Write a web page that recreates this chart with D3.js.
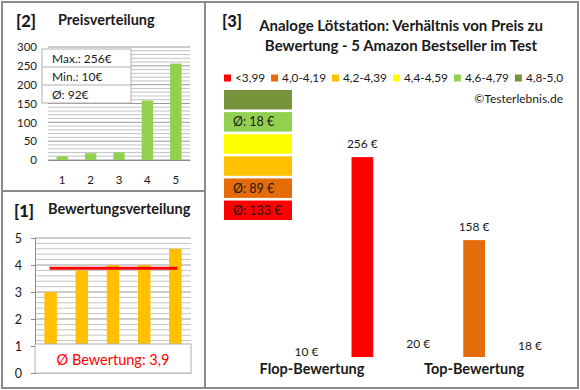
<!DOCTYPE html>
<html><head><meta charset="utf-8">
<script src="https://cdn.jsdelivr.net/npm/d3@7"></script>
<style>html,body{margin:0;padding:0;background:#fff;}svg{display:block;font-family:Lato,"Open Sans",sans-serif;}</style>
</head><body>
<svg id="c" width="580" height="390"></svg>
<script>
// ---- data ----
const priceCats = ["1","2","3","4","5"];
const priceValues = [10, 18, 20, 158, 256];
const priceTicks = [0, 50, 100, 150, 200, 250, 300];
const priceInfo = ["Max.: 256€", "Min.: 10€", "Ø: 92€"];

const ratingCats = ["1","2","3","4","5"];
const ratingValues = [3.0, 3.8, 4.0, 4.0, 4.6];
const ratingTicks = [0, 1, 2, 3, 4, 5];
const ratingLabel = "Ø Bewertung: 3,9";

const legendLabels = ["<3,99", "4,0-4,19", "4,2-4,39", "4,4-4,59", "4,6-4,79", "4,8-5,0"];
const legendColors = ["#FF0000", "#E46C0A", "#FFC000", "#FFFF00", "#92D050", "#77933C"];
const classAverages = [133, 89, null, null, 18, null];

const productIds = ["p1", "p2", "p3", "p4", "p5"];
const productPrices = [10, 256, 20, 158, 18];
const productClass = [0, 0, 1, 1, 4];
const groupNames = ["Flop-Bewertung", "Top-Bewertung"];
const priceAxisMin = 20;

const svg = d3.select("#c");
const txt = "#1a1a1a";

// ---- frames ----
svg.append("rect").attr("x", 2).attr("y", 2).attr("width", 576).attr("height", 386)
  .attr("fill", "none").attr("stroke", "#8a8a8a").attr("stroke-width", 2);
svg.append("line").attr("x1", 205).attr("x2", 205).attr("y1", 2).attr("y2", 388)
  .attr("stroke", "#8a8a8a").attr("stroke-width", 2);
svg.append("line").attr("x1", 2).attr("x2", 205).attr("y1", 191).attr("y2", 191)
  .attr("stroke", "#8a8a8a").attr("stroke-width", 2);

// ---- panel [2] Preisverteilung ----
const p2 = svg.append("g");
p2.append("text").attr("x", 16).attr("y", 27).attr("font-size", 16.5).attr("font-weight", 900).attr("fill", txt).text("[2]");
p2.append("text").attr("x", 58).attr("y", 25).attr("font-size", 14.5).attr("font-weight", "bold").attr("fill", txt).text("Preisverteilung");

const x2 = d3.scaleBand().domain(priceCats).range([48, 190]).paddingInner(0.6).paddingOuter(0.3);
const y2 = d3.scaleLinear().domain([0, 300]).range([160, 47]);
p2.append("g").selectAll("line").data(d3.range(0, 301, 10)).join("line")
  .attr("x1", 48).attr("x2", 190).attr("y1", d => y2(d)).attr("y2", d => y2(d))
  .attr("stroke", d => d % 50 === 0 ? "#9a9a9a" : "#c4c4c4").attr("stroke-width", 1);
p2.append("g").selectAll("rect").data(priceValues).join("rect")
  .attr("x", (d, i) => x2(priceCats[i])).attr("width", x2.bandwidth())
  .attr("y", d => y2(d)).attr("height", d => y2(0) - y2(d)).attr("fill", "#92D050");
const ax2 = p2.append("g").attr("transform", "translate(0,160)")
  .call(d3.axisBottom(x2).tickSize(0).tickPadding(16));
ax2.select(".domain").attr("stroke", "#8a8a8a");
ax2.selectAll("text").attr("font-size", 11.5).attr("fill", txt).attr("font-family", "Lato");
const ay2 = p2.append("g").attr("transform", "translate(45,0)")
  .call(d3.axisLeft(y2).tickValues(priceTicks).tickSize(0).tickPadding(8));
ay2.select(".domain").remove();
ay2.selectAll("text").attr("font-size", 11.5).attr("fill", txt).attr("font-family", "Lato");

const infoRows = d3.scaleBand().domain(d3.range(priceInfo.length)).range([49, 103]);
p2.append("rect").attr("x", 42).attr("y", 49).attr("width", 89).attr("height", 54)
  .attr("fill", "#fff").attr("stroke", "#b0b0b0");
p2.append("g").selectAll("line").data(d3.range(1, priceInfo.length)).join("line")
  .attr("x1", 42).attr("x2", 131).attr("y1", d => infoRows(d)).attr("y2", d => infoRows(d))
  .attr("stroke", "#b0b0b0");
p2.append("g").selectAll("text").data(priceInfo).join("text")
  .attr("x", 52).attr("y", (d, i) => infoRows(i) + infoRows.bandwidth() / 2 + 4.5)
  .attr("font-size", 12).attr("fill", txt).text(d => d);

// ---- panel [1] Bewertungsverteilung ----
const p1 = svg.append("g");
p1.append("text").attr("x", 14).attr("y", 217).attr("font-size", 16.5).attr("font-weight", 900).attr("fill", txt).text("[1]");
p1.append("text").attr("x", 48).attr("y", 214).attr("font-size", 14.5).attr("font-weight", "bold").attr("fill", txt).text("Bewertungsverteilung");

const x1 = d3.scaleBand().domain(ratingCats).range([35, 191]).paddingInner(0.6).paddingOuter(0.3);
const y1 = d3.scaleLinear().domain([0, 5]).range([373, 238]);
p1.append("g").selectAll("line").data(d3.range(0, 25.1, 1)).join("line")
  .attr("x1", 35).attr("x2", 191).attr("y1", d => y1(d / 5)).attr("y2", d => y1(d / 5))
  .attr("stroke", d => d % 5 === 0 ? "#9a9a9a" : "#c4c4c4").attr("stroke-width", 1);
p1.append("g").selectAll("rect").data(ratingValues).join("rect")
  .attr("x", (d, i) => x1(ratingCats[i])).attr("width", x1.bandwidth())
  .attr("y", d => y1(d)).attr("height", d => y1(0) - y1(d)).attr("fill", "#FFC000");
const ay1 = p1.append("g").attr("transform", "translate(35,0)")
  .call(d3.axisLeft(y1).tickValues(ratingTicks).tickFormat(d3.format("d")).tickSize(4).tickPadding(9));
ay1.select(".domain").attr("stroke", "#8a8a8a");
ay1.selectAll("line").attr("stroke", "#8a8a8a");
ay1.selectAll("text").attr("font-size", 12.5).attr("fill", txt).attr("font-family", "Lato");
const avg = d3.mean(ratingValues);
p1.append("line")
  .attr("x1", x1(ratingCats[0]) + x1.bandwidth() / 2 - 1)
  .attr("x2", x1(ratingCats[ratingCats.length - 1]) + x1.bandwidth() / 2 + 2)
  .attr("y1", y1(avg)).attr("y2", y1(avg)).attr("stroke", "#FF0000").attr("stroke-width", 3);
p1.append("rect").attr("x", 35).attr("y", y1(1) - 2).attr("width", 156).attr("height", y1(0) - y1(1) + 2)
  .attr("fill", "#fff").attr("stroke", "#b0b0b0");
p1.append("text").attr("x", 113).attr("y", 365).attr("text-anchor", "middle")
  .attr("font-size", 14.5).attr("fill", "#FF0000").text(ratingLabel);

// ---- panel [3] ----
const p3 = svg.append("g");
p3.append("text").attr("x", 222).attr("y", 27).attr("font-size", 16.5).attr("font-weight", 900).attr("fill", txt).text("[3]");
p3.append("text").attr("x", 401).attr("y", 31).attr("text-anchor", "middle").attr("font-size", 15)
  .attr("font-weight", "bold").attr("fill", txt).text("Analoge Lötstation: Verhältnis von Preis zu");
p3.append("text").attr("x", 401).attr("y", 50.5).attr("text-anchor", "middle").attr("font-size", 15)
  .attr("font-weight", "bold").attr("fill", txt).text("Bewertung - 5 Amazon Bestseller im Test");

// legend
const lg = p3.append("g");
let lx = 225;
legendLabels.forEach((l, i) => {
  lg.append("rect").attr("x", lx).attr("y", 74.5).attr("width", 7).attr("height", 7).attr("fill", legendColors[i]);
  const t = lg.append("text").attr("x", lx + 11).attr("y", 82).attr("font-size", 11.8).attr("fill", txt).text(l);
  lx += 11 + t.node().getComputedTextLength() + 6;
});
const lgW = lx - 6 - 225;
lg.attr("transform", `translate(${(562 - 225 - lgW) / 2},0)`);

p3.append("text").attr("x", 563).attr("y", 103).attr("text-anchor", "end").attr("font-size", 12)
  .attr("fill", txt).text("©Testerlebnis.de");

// class blocks (top = best class)
const blockOrder = d3.range(legendLabels.length).reverse();
const yb = d3.scaleBand().domain(blockOrder).range([90, 220]).paddingInner(0.12);
p3.append("g").selectAll("rect").data(blockOrder).join("rect")
  .attr("x", 224).attr("width", 68).attr("y", d => yb(d)).attr("height", yb.bandwidth())
  .attr("fill", d => legendColors[d]);
p3.append("g").selectAll("text").data(blockOrder.filter(d => classAverages[d] != null)).join("text")
  .attr("x", 233).attr("y", d => yb(d) + yb.bandwidth() / 2 + 4.5)
  .attr("font-size", 12.5).attr("fill", txt).text(d => `Ø: ${classAverages[d]} €`);

// main bars
const xp = d3.scalePoint().domain(productIds).range([306.5, 530]);
const yp = d3.scaleLinear().domain([priceAxisMin, 280]).range([357, 136.8]);
const bw = 21.7;
p3.append("g").selectAll("rect").data(productPrices).join("rect")
  .attr("x", (d, i) => xp(productIds[i]) - bw / 2).attr("width", bw)
  .attr("y", d => Math.min(yp(d), yp(priceAxisMin)))
  .attr("height", d => Math.max(0, yp(priceAxisMin) - yp(d)))
  .attr("fill", (d, i) => legendColors[productClass[i]]);
p3.append("g").selectAll("text").data(productPrices).join("text")
  .attr("x", (d, i) => xp(productIds[i])).attr("y", d => yp(d) - 9)
  .attr("text-anchor", "middle").attr("font-size", 12).attr("fill", txt).text(d => `${d} €`);
const xg = d3.scaleBand().domain(groupNames).range([231, 555]);
p3.append("g").selectAll("text").data(groupNames).join("text")
  .attr("x", d => xg(d) + xg.bandwidth() / 2).attr("y", 374).attr("text-anchor", "middle")
  .attr("font-size", 14.5).attr("font-weight", "bold").attr("fill", txt).text(d => d);
</script>
</body></html>
